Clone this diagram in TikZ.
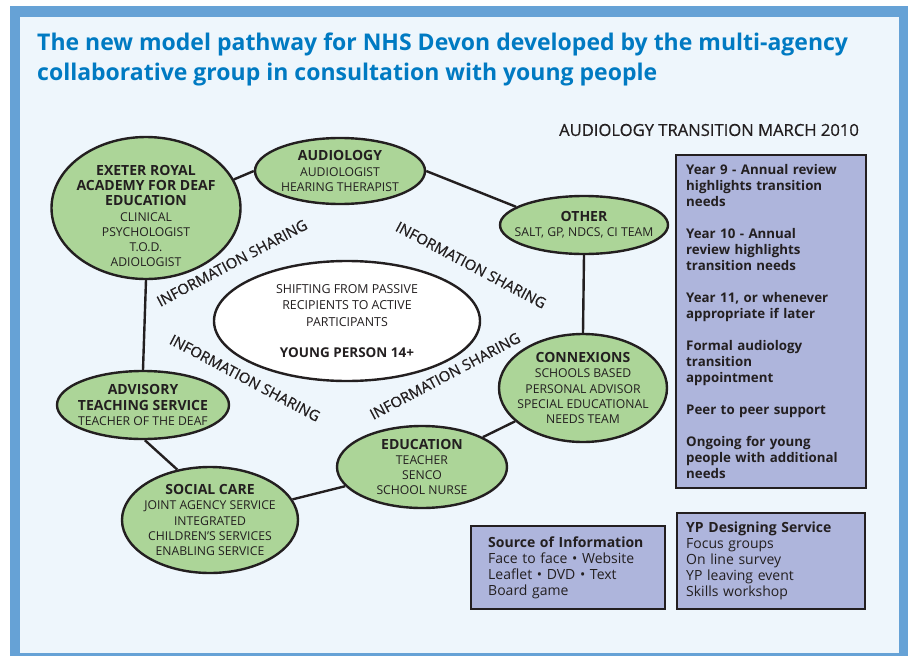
\documentclass[tikz,border=0pt]{standalone}
\usepackage{fontspec}
\setmainfont{Open Sans}
\newfontfamily\sharefont{Open Sans}[FakeBold=0.6]
\usetikzlibrary{shapes.geometric}

\definecolor{framebl}{RGB}{102,162,214}
\definecolor{paper}{RGB}{238,246,252}
\definecolor{headbl}{RGB}{0,122,194}
\definecolor{grpgreen}{RGB}{172,213,152}
\definecolor{notelilac}{RGB}{174,181,220}
\definecolor{ink}{RGB}{35,31,32}

\newcommand{\grphead}[1]{{\fontsize{14}{15.5}\selectfont\bfseries #1}}

\begin{document}
\begin{tikzpicture}[x=1pt,y=-1pt,
    grp/.style={ellipse, draw=ink, line width=2.4pt, fill=grpgreen,
      inner xsep=-25pt, inner ysep=-20pt, align=center, text=ink,
      font=\fontsize{12.2}{15.2}\selectfont},
    grptext/.style={align=center, text=ink, inner sep=0,
      font=\fontsize{12.2}{15.2}\selectfont},
    link/.style={draw=ink, line width=2.4pt},
    share/.style={text=ink, inner sep=0, font=\sharefont\fontsize{14.8}{15}\selectfont},
    note/.style={rectangle, draw=ink, line width=2.4pt, fill=notelilac,
      anchor=north west, align=left, text=ink, inner ysep=0,
      font=\fontsize{13.3}{16}\selectfont}]

  % frame
  \fill[white] (0,0) rectangle (908,656);
  \fill[framebl] (10,6) rectangle (908,656);
  \fill[paper] (20,17) rectangle (899,653);
  \useasboundingbox (0,0) rectangle (908,656);

  \node[anchor=north west, inner sep=0, align=left, text=headbl,
    font=\fontsize{23}{30}\selectfont\bfseries] (title) at (37,33)
    {The new model pathway for NHS Devon developed by the multi-agency\\
     collaborative group in consultation with young people};
  \node[text=ink, font=\sharefont\fontsize{16.6}{17}\selectfont] (plan) at (709,130)
    {AUDIOLOGY TRANSITION MARCH 2010};

  % the groups round the young person
  \node[grp, minimum width=189, minimum height=142] (exeter) at (146,208) {};
  \node[grptext] (exeter-t) at ([yshift=-8]exeter.center)
    {\grphead{EXETER ROYAL}\\ \grphead{ACADEMY FOR DEAF}\\ \grphead{EDUCATION}\\
     CLINICAL\\ PSYCHOLOGIST\\ T.O.D.\\ ADIOLOGIST};
  \node[grp, minimum width=170, minimum height=66] (audio) at (340,171)
    {\grphead{AUDIOLOGY}\\ AUDIOLOGIST\\ HEARING THERAPIST};
  \node[grp, minimum width=168, minimum height=58] (other) at (584,225)
    {\grphead{OTHER}\\ SALT, GP, NDCS, CI TEAM};
  \node[grp, minimum width=168, minimum height=108] (connex) at (583,388)
    {\grphead{CONNEXIONS}\\ SCHOOLS BASED\\ PERSONAL ADVISOR\\
     SPECIAL EDUCATIONAL\\ NEEDS TEAM};
  \node[grp, minimum width=170, minimum height=82] (educ) at (422,467)
    {\grphead{EDUCATION}\\ TEACHER\\ SENCO\\ SCHOOL NURSE};
  \node[grp, minimum width=176, minimum height=106] (social) at (210,520)
    {\grphead{SOCIAL CARE}\\ JOINT AGENCY SERVICE\\ INTEGRATED\\
     CHILDREN'S SERVICES\\ ENABLING SERVICE};
  \node[grp, minimum width=172, minimum height=68] (advis) at (143,405)
    {\grphead{ADVISORY}\\ \grphead{TEACHING SERVICE}\\ TEACHER OF THE DEAF};

  \node[grp, fill=white, minimum width=266, minimum height=120,
    font=\fontsize{12.4}{16.5}\selectfont] (yp) at (347,321)
    {SHIFTING FROM PASSIVE\\ RECIPIENTS TO ACTIVE\\ PARTICIPANTS\\[15pt]
     {\fontsize{13.5}{16.5}\selectfont\bfseries YOUNG PERSON 14+}};

  \foreach \a/\b in {exeter.18/audio.west, audio.east/other.165,
      other.south/connex.north, connex/educ, educ/social,
      social.123/advis.-87, advis.north/exeter.south}{
    \draw[link] (\a) -- (\b);
  }

  \foreach \n/\x/\y/\r in {sh1/232/263/28, sh2/471/265/-28,
      sh3/245/378/-28, sh4/445/376/28}{
    \node[share, rotate=\r] (\n) at (\x,\y) {INFORMATION SHARING};
  }

  % notes on the right
  \node[note, text width=170, inner xsep=10, minimum height=333,
    font=\fontsize{13.3}{16}\selectfont\bfseries] (steps) at (675,154)
    {Year 9 - Annual review\\ highlights transition\\ needs\\[16pt]
     Year 10 - Annual\\ review highlights\\ transition needs\\[16pt]
     Year 11, or whenever\\ appropriate if later\\[16pt]
     Formal audiology\\ transition\\ appointment\\[16pt]
     Peer to peer support\\[16pt]
     Ongoing for young\\ people with additional\\ needs};
  \node[note, text width=160, inner xsep=17, minimum height=83,
    font=\fontsize{14}{16}\selectfont] (source) at (470,525)
    {\textbf{Source of Information}\\ Face to face • Website\\
     Leaflet • DVD • Text\\ Board game};
  \node[note, text width=170, inner xsep=9, minimum height=96,
    font=\fontsize{14}{16}\selectfont] (design) at (676,512)
    {\textbf{YP Designing Service}\\ Focus groups\\ On line survey\\
     YP leaving event\\ Skills workshop};
\end{tikzpicture}
\end{document}
